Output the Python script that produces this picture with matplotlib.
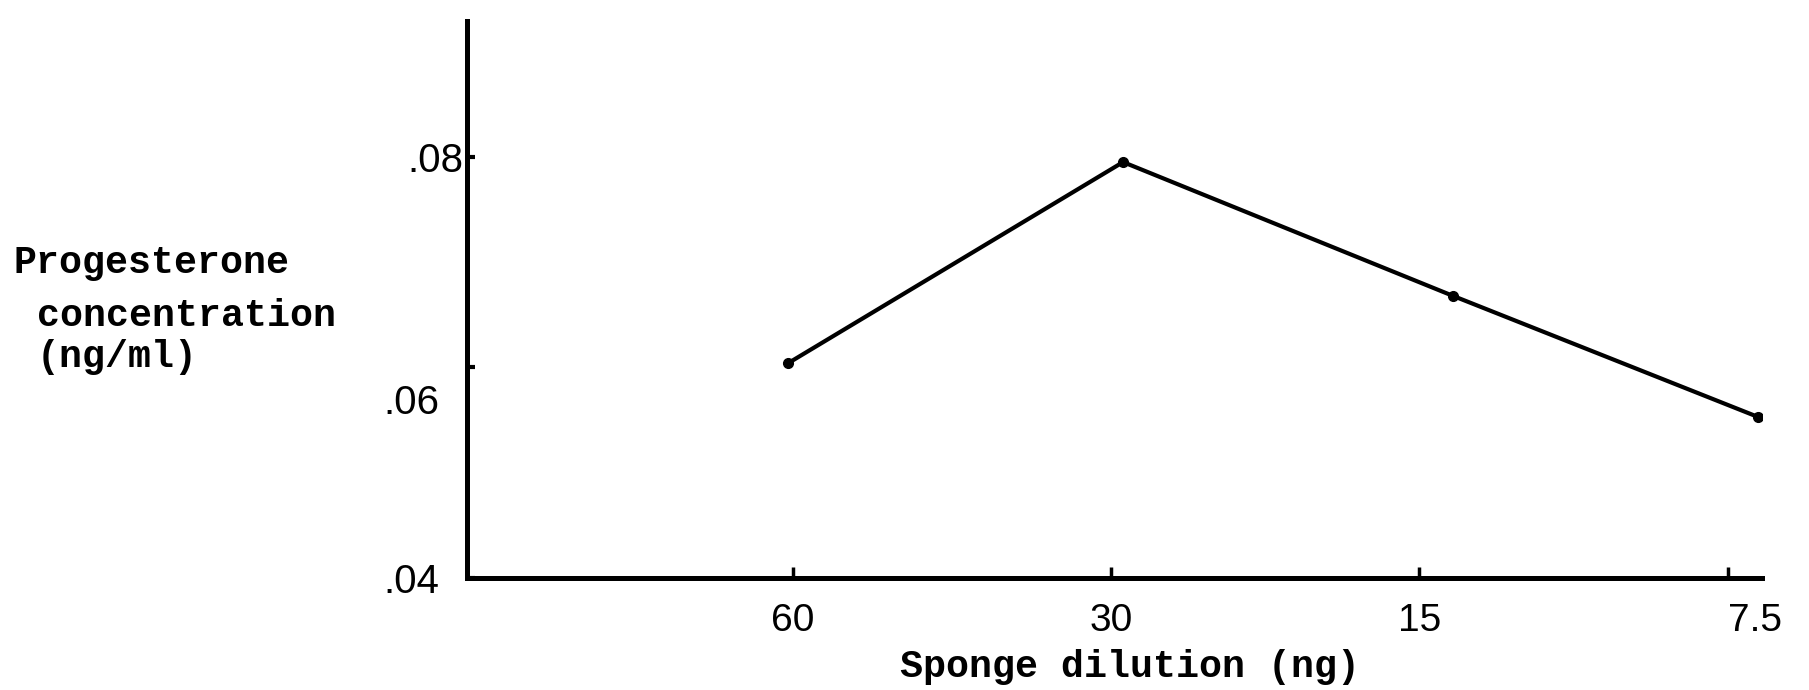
import matplotlib
matplotlib.use('Agg')
import matplotlib.pyplot as plt
import matplotlib.transforms as mtransforms

# --- data ---
dilution_labels = ['60', '30', '15', '7.5']
tick_pos = [0.0, 1.02, 2.01, 3.0]           # positions of dilution ticks (log2 steps)
point_x = [-0.016, 1.059, 2.117, 3.096]     # drawn positions of the points
concentration = [0.0604, 0.0795, 0.0668, 0.0553]
ytick_vals = [0.04, 0.06, 0.08]
ytick_labels = ['.04', '.06', '.08']

fig = plt.figure(figsize=(18.09, 6.9), dpi=100)
ax = fig.add_axes([0.2582, 0.1623, 0.7158, 0.8073])

ax.plot(point_x, concentration, color='black', lw=3.0, marker='o', ms=7,
        solid_capstyle='round', solid_joinstyle='round')

ax.set_xlim(-1.046, 3.109)
ax.set_ylim(0.04, 0.0929)

for s in ['top', 'right']:
    ax.spines[s].set_visible(False)
ax.spines['left'].set_linewidth(3.6)
ax.spines['bottom'].set_linewidth(3.6)

ax.set_xticks(tick_pos)
ax.set_xticklabels(dilution_labels, fontfamily='Liberation Sans', fontsize=28)
ax.tick_params(axis='x', direction='in', length=8, width=2.5, pad=18)

ax.set_yticks(ytick_vals)
ax.set_yticklabels(ytick_labels, fontfamily='Liberation Sans', fontsize=29)
ax.tick_params(axis='y', direction='in', length=6, width=3, pad=20)

# small hand-drawn offsets of individual labels
xl = ax.get_xticklabels()
xl[3].set_transform(xl[3].get_transform() +
                    mtransforms.ScaledTranslation(0.27, 0, fig.dpi_scale_trans))
yl = ax.get_yticklabels()
yl[2].set_transform(yl[2].get_transform() +
                    mtransforms.ScaledTranslation(0.24, 0, fig.dpi_scale_trans))
yl[1].set_transform(yl[1].get_transform() +
                    mtransforms.ScaledTranslation(0, -0.32, fig.dpi_scale_trans))

mono = dict(fontfamily='Liberation Mono', fontweight='bold', fontsize=27.5)
fig.text(14 / 1809, 1 - 273 / 690, 'Progesterone', va='baseline', ha='left', **mono)
fig.text(37 / 1809, 1 - 326 / 690, 'concentration', va='baseline', ha='left', **mono)
fig.text(37 / 1809, 1 - 367 / 690, '(ng/ml)', va='baseline', ha='left', **mono)
fig.text(1130 / 1809, 1 - 677 / 690, 'Sponge dilution (ng)', va='baseline', ha='center', **mono)

fig.savefig('out.png', dpi=100)
